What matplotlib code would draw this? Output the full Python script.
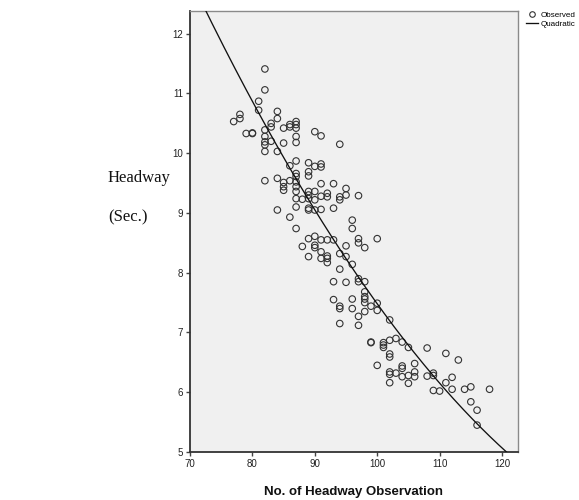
import matplotlib
matplotlib.use("Agg")
import matplotlib.pyplot as plt
import numpy as np
from matplotlib.lines import Line2D

# ---- data ----
obs_x = [77, 78, 78, 79, 80, 80, 81, 81,
         82, 82, 82, 82, 82, 82, 82, 82,
         83, 83, 83,
         84, 84, 84, 84, 84,
         85, 85, 85, 85, 85,
         86, 86, 86, 86, 86,
         87, 87, 87, 87, 87, 87, 87, 87, 87, 87, 87, 87, 87, 87,
         88, 88,
         89, 89, 89, 89, 89, 89, 89, 89, 89, 89,
         90, 90, 90, 90, 90, 90, 90, 90,
         91, 91, 91, 91, 91, 91, 91, 91, 91,
         92, 92, 92, 92, 92, 92,
         93, 93, 93, 93, 93,
         94, 94, 94, 94, 94, 94, 94, 94,
         95, 95, 95, 95, 95,
         96, 96, 96, 96, 96,
         97, 97, 97, 97, 97, 97, 97,
         98, 98, 98, 98, 98, 98, 98,
         99, 99, 99,
         100, 100, 100, 100,
         101, 101, 101,
         102, 102, 102, 102, 102, 102, 102,
         103, 103,
         104, 104, 104, 104,
         105, 105, 105,
         106, 106, 106,
         108, 108,
         109, 109, 109,
         110,
         111, 111,
         112, 112,
         113,
         114,
         115, 115,
         116, 116,
         118]
obs_y = [10.53, 10.65, 10.58, 10.33, 10.33, 10.34, 10.87, 10.72,
         11.41, 11.06, 10.39, 10.28, 10.19, 10.14, 10.03, 9.54,
         10.50, 10.44, 10.20,
         10.70, 10.58, 10.03, 9.58, 9.05,
         10.42, 10.17, 9.51, 9.44, 9.38,
         10.48, 10.44, 9.79, 9.54, 8.93,
         10.53, 10.48, 10.42, 10.28, 10.18, 9.87, 9.66, 9.61, 9.52, 9.44, 9.36, 9.24, 9.10, 8.74,
         9.23, 8.44,
         9.84, 9.69, 9.62, 9.36, 9.30, 9.24, 9.08, 9.05, 8.57, 8.27,
         10.36, 9.78, 9.36, 9.22, 9.05, 8.61, 8.46, 8.42,
         10.29, 9.82, 9.77, 9.49, 9.28, 9.06, 8.55, 8.35, 8.24,
         9.33, 9.27, 8.55, 8.28, 8.24, 8.17,
         9.49, 9.08, 8.55, 7.85, 7.55,
         10.15, 9.27, 9.22, 8.32, 8.06, 7.44, 7.40, 7.15,
         9.41, 9.30, 8.45, 8.27, 7.84,
         8.88, 8.74, 8.14, 7.56, 7.40,
         9.29, 8.57, 8.50, 7.90, 7.85, 7.27, 7.12,
         8.42, 7.85, 7.68, 7.60, 7.56, 7.50, 7.35,
         7.44, 6.84, 6.83,
         8.57, 7.49, 7.37, 6.45,
         6.83, 6.79, 6.75,
         7.21, 6.87, 6.64, 6.59, 6.34, 6.30, 6.16,
         6.90, 6.32,
         6.84, 6.44, 6.40, 6.26,
         6.75, 6.28, 6.15,
         6.48, 6.34, 6.26,
         6.74, 6.27,
         6.32, 6.28, 6.03,
         6.02,
         6.65, 6.16,
         6.25, 6.05,
         6.54,
         6.05,
         6.09, 5.84,
         5.70, 5.45,
         6.05]

# quadratic curve coefficients (highest power first)
quad_coef = [0.00122, -0.389, 34.18]

x_ticks = [70, 80, 90, 100, 110, 120]
y_ticks = [5, 6, 7, 8, 9, 10, 11, 12]

x_label = "No. of Headway Observation"
y_label_1 = "Headway"
y_label_2 = "(Sec.)"
legend_labels = ["Observed", "Quadratic"]

# ---- figure ----
narrow = ["Liberation Sans Narrow", "Liberation Sans", "DejaVu Sans"]
W, H = 579, 500
fig = plt.figure(figsize=(W / 100, H / 100), dpi=100)
ax = fig.add_axes([190 / W, 1 - 452 / H, (518 - 190) / W, (452 - 11) / H])
ax.set_facecolor("#f0f0f0")

ax.scatter(obs_x, obs_y, s=22, facecolors="none", edgecolors="#333333",
           linewidths=0.8, zorder=3)

xc = np.linspace(70, 122.6, 300)
ax.plot(xc, np.polyval(quad_coef, xc), color="#111111", lw=0.95, zorder=4)

ax.set_xlim(70, 122.56)
ax.set_ylim(5, 12.38)
ax.set_xticks(x_ticks)
ax.set_yticks(y_ticks)
ax.set_xticklabels([str(t) for t in x_ticks], family=narrow, fontsize=7, color="#222222")
ax.set_yticklabels([str(t) for t in y_ticks], family=narrow, fontsize=7, color="#222222")
ax.tick_params(direction="out", length=3, width=1, color="#444444", pad=2)

for side in ("left", "bottom"):
    ax.spines[side].set_color("#333333")
    ax.spines[side].set_linewidth(1.3)
for side in ("top", "right"):
    ax.spines[side].set_color("#8a8a8a")
    ax.spines[side].set_linewidth(1.0)

ax.set_xlabel(x_label, family=narrow, fontsize=9.5, fontweight="bold",
              labelpad=12, color="#111111")

fig.text(108 / W, 1 - 178 / H, y_label_1, family=["Liberation Serif", "DejaVu Serif"],
         fontsize=12, ha="left", va="center", color="#111111")
fig.text(108 / W, 1 - 217 / H, y_label_2, family=["Liberation Serif", "DejaVu Serif"],
         fontsize=12, ha="left", va="center", color="#111111")

handles = [
    Line2D([], [], linestyle="none", marker="o", markersize=4.0,
           markerfacecolor="none", markeredgecolor="#333333", markeredgewidth=0.8),
    Line2D([], [], color="#111111", lw=0.95),
]
fig.legend(handles, legend_labels, loc="upper left",
           bbox_to_anchor=(526 / W, 1 - 11 / H), frameon=False,
           prop={"family": narrow, "size": 5.8}, handlelength=1.5,
           handletextpad=0.3, labelspacing=0.2, borderpad=0, borderaxespad=0)

fig.savefig("out.png", dpi=100)
